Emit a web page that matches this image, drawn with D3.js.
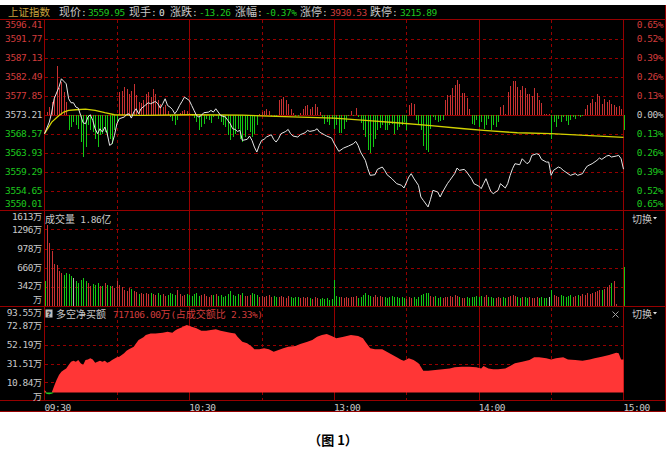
<!DOCTYPE html>
<html><head><meta charset="utf-8">
<script src="https://cdn.jsdelivr.net/npm/d3@7"></script>
<style>body{margin:0;background:#fff}svg{display:block}</style>
</head><body><svg id="c" width="669" height="463"></svg>
<script>
// ---------------- data ----------------
const priceTicks = [3596.41,3591.77,3587.13,3582.49,3577.85,3573.21,3568.57,3563.93,3559.29,3554.65,3550.01];
const pctLabels = ["0.65%","0.52%","0.39%","0.26%","0.13%","0.00%","0.13%","0.26%","0.39%","0.52%","0.65%"];
const volTicks = [1613,1296,978,660,342,26];
const volLabels = ["1613万","1296万","978万","660万","342万","万"];
const netTicks = [93.55,72.87,52.19,31.51,10.84,-9.84];
const netLabels = ["93.55万","72.87万","52.19万","31.51万","10.84万","万"];
const timeLabels = ["09:30","10:30","13:00","14:00","15:00"];
const timeMinutes = [0,60,120,180,240];
const gridMinutes = [30,60,90,120,150,180,210];

// price line: [minute, price]
const priceLine = [[0,3568.59],[2,3571.43],[3,3573.86],[4,3577.10],[6,3579.94],[7,3581.97],[9,3580.75],[10,3577.10],[11,3576.13],[12,3576.13],
[13,3575.08],[14,3574.83],[15,3573.05],[16,3571.26],[17,3571.02],[18,3572.64],[19,3573.21],[20,3571.83],[21,3569.80],[22,3568.59],
[23,3569.80],[24,3568.99],[25,3570.21],[26,3568.59],[27,3565.75],[28,3566.15],[29,3568.18],[30,3571.02],[31,3572.24],[33,3572.64],
[34,3573.21],[35,3573.45],[36,3572.40],[37,3573.86],[38,3574.67],[39,3573.45],[40,3574.67],[42,3575.64],[43,3576.13],[44,3575.89],
[46,3576.45],[47,3575.89],[48,3574.83],[49,3575.89],[50,3577.10],[51,3575.48],[52,3575.08],[53,3574.51],[54,3573.45],[55,3574.26],
[56,3575.48],[57,3576.45],[58,3577.51],[60,3576.70],[61,3575.48],[62,3574.26],[63,3573.05],[64,3572.64],[65,3573.05],[66,3573.70],
[68,3573.86],[69,3574.26],[70,3573.86],[71,3574.67],[72,3573.86],[73,3573.05],[75,3572.64],[76,3571.83],[77,3571.02],[78,3569.80],
[79,3569.64],[80,3569.15],[81,3569.40],[82,3566.97],[84,3567.21],[85,3568.02],[86,3566.97],[87,3565.34],[88,3564.13],[89,3565.75],
[90,3566.97],[91,3567.21],[92,3567.78],[94,3568.34],[95,3567.21],[96,3566.56],[97,3567.37],[98,3568.59],[100,3569.15],[101,3569.64],
[102,3568.59],[103,3568.02],[105,3567.78],[106,3568.34],[108,3568.83],[109,3569.40],[110,3569.15],[112,3569.40],[113,3569.80],[114,3568.99],
[116,3568.34],[117,3568.02],[119,3567.53],[120,3566.30],[122,3564.29],[124,3565.10],[126,3565.59],[128,3566.15],[129,3566.72],[130,3565.75],
[131,3564.13],[133,3562.10],[134,3560.07],[135,3558.45],[137,3558.61],[138,3559.91],[140,3560.48],[141,3559.67],[142,3558.61],[144,3557.64],
[146,3556.42],[148,3556.02],[149,3555.37],[151,3558.04],[152,3558.86],[153,3557.80],[155,3556.02],[156,3553.18],[157,3552.37],[159,3550.75],
[160,3552.61],[161,3554.80],[163,3554.39],[164,3553.18],[165,3554.39],[167,3556.42],[168,3557.23],[170,3558.86],[171,3560.23],[172,3559.67],
[174,3559.91],[175,3559.26],[177,3557.64],[178,3556.42],[180,3555.85],[181,3555.21],[182,3556.42],[183,3557.64],[184,3556.02],[185,3554.56],
[186,3553.99],[188,3554.80],[189,3556.42],[191,3555.37],[192,3556.42],[193,3558.45],[194,3560.07],[195,3561.29],[197,3561.04],[198,3562.50],
[200,3561.29],[201,3561.69],[202,3563.32],[204,3563.72],[205,3563.48],[206,3562.34],[208,3561.69],[209,3561.69],[210,3558.45],[211,3559.67],
[213,3560.48],[214,3560.23],[215,3559.67],[217,3558.86],[218,3558.45],[220,3558.86],[221,3558.45],[223,3558.86],[224,3559.91],[225,3560.72],
[227,3561.29],[229,3562.10],[230,3562.67],[231,3562.34],[233,3563.15],[234,3563.32],[235,3562.91],[237,3563.15],[238,3563.32],[239,3562.50],[240,3559.95]];

// average price line: [minute, price]
const avgLine = [[0,3568.59],[3,3571.43],[6,3573.05],[8,3573.86],[10,3574.26],[13,3574.43],[17,3574.59],[21,3574.26],[25,3573.70],[29,3573.21],
[40,3573.05],[61,3573.21],[82,3573.13],[96,3572.80],[120,3572.40],[133,3571.83],[146,3571.26],[159,3570.61],[174,3569.80],[182,3569.40],
[196,3568.83],[210,3568.59],[224,3568.18],[240,3567.69]];

// red/green bars around previous close (offset in index points), minute 0..240
const leadBars = [
0,0.6,2.0,3.2,4.5,11.8,6.5,8.0,5.5,3.0,
-3.8,-3.0,-1.8,-2.6,-3.4,-6.7,-10.3,-7.9,-2.6,-3.8,
-4.2,-5.8,-7.9,-5.0,-4.6,-4.2,-5.0,-5.8,-7.1,-3.8,
-1.8,5.5,5.9,6.7,6.3,5.1,5.9,7.5,4.7,3.1,
2.9,3.5,5.1,5.5,4.3,6.2,5.1,3.5,2.7,1.9,
2.3,1.0,-0.5,-1.5,-2.6,-1.4,0.4,0.8,1.2,0.9,
0.5,-0.3,-0.8,-1.8,-3.8,-3.0,-2.2,-1.0,-1.4,-2.0,
-0.6,-0.2,-1.0,-1.8,-2.6,-3.0,-5.0,-6.2,-5.4,-4.6,
-3.4,-5.8,-6.7,-5.4,-3.8,-4.2,-5.4,-4.6,-2.6,0.3,
0.6,1.0,1.4,0.8,-0.3,-0.6,-0.4,3.5,3.9,4.3,
3.5,2.7,1.5,0.5,-0.3,-0.4,0.5,1.3,2.1,2.4,
1.3,1.9,2.7,1.9,0.6,-0.5,-2.2,-1.8,-2.6,-1.0,
-3.4,-2.4,-4.4,-4.5,-3.5,-1.8,-0.4,0.8,-0.3,1.6,
-0.5,-2.0,-3.8,-5.4,-8.5,-9.3,-7.8,-5.8,-3.8,-3.2,
-2.6,-3.8,-3.6,-2.6,-2.2,-4.6,-3.6,-3.0,-2.6,-1.8,
-3.6,2.3,2.9,2.6,-1.4,-2.6,-3.8,-7.5,-8.6,-9.1,
-3.4,-0.5,-1.2,-1.8,-1.6,-1.4,3.5,4.9,4.8,6.5,
7.2,8.5,7.5,5.3,5.4,4.0,1.5,-2.2,-2.6,-1.4,
-3.0,-1.8,-3.4,-2.6,-1.0,-3.8,-2.6,-3.0,-1.8,1.8,
2.4,0.3,5.5,7.1,8.3,8.3,6.7,6.0,7.1,6.5,
5.0,5.1,4.5,6.5,5.3,3.5,2.9,0.2,0.1,0.1,
-6.0,-1.8,-3.0,-1.0,-1.8,-0.6,-1.6,-2.6,-1.4,-0.6,
-1.0,-0.4,-0.6,-0.2,1.3,2.4,2.9,3.9,3.0,5.1,
4.5,2.7,3.9,3.2,3.5,2.5,2.4,2.0,2.1,1.5,
-3.8];

// volume per minute (万), minute 0..240
const volume = [
440,1360,1073,935,730,715,605,577,550,577,
566,522,494,439,412,467,494,439,412,357,
401,384,412,357,368,412,384,357,368,329,
439,384,346,302,274,329,313,274,257,235,
246,230,240,225,250,230,210,245,220,235,
205,215,240,230,210,290,225,200,215,235,
210,195,225,240,205,215,230,200,190,220,
210,235,200,215,190,205,230,275,215,200,
225,210,240,205,195,215,250,230,210,190,
205,180,195,210,185,200,175,190,205,180,
170,195,185,165,190,175,160,180,170,185,
165,155,175,160,150,170,145,160,140,150,
456,200,175,190,165,180,160,185,175,195,
170,185,210,245,220,205,190,215,180,200,
175,190,165,185,200,175,190,160,180,170,
155,185,165,175,150,190,215,230,250,240,
205,180,195,170,185,160,175,190,200,185,
210,195,180,170,165,180,160,175,190,205,
185,200,175,220,190,180,170,160,175,165,
185,170,180,200,215,195,185,170,190,175,
165,180,170,160,175,165,180,170,160,175,
290,220,200,185,210,195,180,205,215,190,
200,220,205,230,215,240,225,250,260,275,
290,300,320,340,375,410,440,60,0,0,
676];

// net buy amount (万): [minute, value]
const netBuy = [[0,2.6],[1,-1.7],[2,-2.0],[3,-1.5],[4,7.0],[5,13.5],[6,19.0],[7,22.6],[8,24.4],[9,26.2],
[10,29.9],[11,33.5],[12,34.6],[13,33.5],[14,35.3],[15,31.7],[16,29.9],[17,35.3],[18,36.0],[19,37.1],
[20,36.0],[21,32.4],[22,33.5],[23,34.6],[24,33.5],[25,34.6],[26,32.4],[27,33.5],[28,35.3],[30,38.2],
[31,38.9],[33,42.6],[34,45.5],[35,46.9],[37,49.8],[38,53.5],[39,57.1],[41,60.0],[42,62.5],[44,64.3],
[46,64.3],[49,65.1],[51,66.1],[53,65.1],[54,67.2],[55,68.7],[57,70.9],[58,72.3],[59,73.4],[61,71.6],
[63,69.8],[65,67.2],[67,67.2],[69,68.0],[71,68.7],[73,67.2],[75,66.1],[77,65.1],[79,64.3],[80,60.7],
[82,55.3],[84,53.5],[86,49.8],[87,46.9],[89,46.9],[91,48.0],[93,46.9],[95,44.4],[97,46.2],[99,48.0],
[101,49.8],[104,50.6],[106,52.7],[109,55.3],[111,57.1],[113,60.7],[115,62.5],[117,63.6],[118,62.5],[119,61.4],
[121,58.9],[124,60.7],[127,62.5],[130,61.4],[132,58.9],[133,55.3],[135,48.0],[137,46.9],[140,46.9],[143,42.6],
[146,38.2],[148,35.3],[149,34.6],[151,37.1],[153,35.3],[155,31.7],[156,28.1],[157,23.7],[159,23.7],[162,24.4],
[165,25.2],[168,26.2],[170,27.3],[173,28.1],[176,28.1],[179,27.3],[181,26.2],[182,28.8],[184,26.2],[186,25.2],
[188,25.2],[191,26.2],[193,28.8],[195,31.7],[198,33.5],[201,35.3],[203,38.2],[205,38.2],[208,37.1],[210,36.0],
[212,37.1],[215,38.2],[217,36.0],[220,35.3],[223,34.6],[226,36.0],[228,37.1],[231,38.9],[234,40.8],[237,43.3],
[238,42.6],[239,36.0],[240,36.0]];

// ---------------- drawing ----------------
const svg = d3.select("#c");
const MONO = '"DejaVu Sans Mono","Liberation Mono",monospace';
const CJK = '"Noto Sans CJK SC","Noto Sans",sans-serif';
const RED = '#d23c3c', GREEN = '#1ec81e', GRAY = '#c8c8c8', LINE = '#960000';
const BAR_RED = '#c83232', BAR_GREEN = '#14c814';

const x = d3.scaleLinear().domain([0,240]).range([44.5,623.5]);
const yP = d3.scaleLinear().domain([priceTicks[10],priceTicks[0]]).range([210,19.5]);
const yV = d3.scaleLinear().domain([volTicks[5],volTicks[0]]).range([306.5,210]);
const yN = d3.scaleLinear().domain([netTicks[5],netTicks[0]]).range([401.5,306.5]);
const prevClose = priceTicks[5];
const px = v => Math.round(v) + 0.5;

svg.append('rect').attr('x',0).attr('y',5).attr('width',666).attr('height',407).attr('fill','#000');

const grid = svg.append('g').attr('shape-rendering','crispEdges').attr('stroke',LINE).attr('stroke-width',1);
function hline(y,x1,x2,dash){ grid.append('line').attr('x1',x1).attr('x2',x2).attr('y1',y).attr('y2',y).attr('stroke-dasharray',dash||null); }
function vline(xx,y1,y2,dash){ grid.append('line').attr('x1',xx).attr('x2',xx).attr('y1',y1).attr('y2',y2).attr('stroke-dasharray',dash||null); }

priceTicks.slice(1,10).forEach((p,i)=>{ hline(px(yP(p)),44.5,623.5, i===4?null:'3,3'); });
volTicks.slice(1,5).forEach(v=>hline(px(yV(v)),44.5,623.5,'3,3'));
netTicks.slice(1,5).forEach(v=>hline(px(yN(v)),44.5,623.5,'3,3'));
gridMinutes.forEach(m=>vline(px(x(m)),19.5,400, (m%60===0)?null:'3,3'));
[19.5,210.5,306.5,400.5,411.5].forEach(y=>hline(y,0,666));
vline(44.5,19.5,400.5); vline(623.5,19.5,400.5); vline(665.5,5,412);

// lead bars
const gl = svg.append('g').attr('shape-rendering','crispEdges');
gl.selectAll('line').data(leadBars.map((v,i)=>[i,v]).filter(d=>d[1]!==0)).join('line')
  .attr('x1',d=>px(x(d[0]))).attr('x2',d=>px(x(d[0])))
  .attr('y1',yP(prevClose)).attr('y2',d=>yP(prevClose+d[1]))
  .attr('stroke',d=>d[1]>0?BAR_RED:BAR_GREEN).attr('stroke-width',1);

// avg and price lines
svg.append('path').datum(avgLine).attr('fill','none').attr('stroke','#d2d200').attr('stroke-width',1.3)
  .attr('d',d3.line().x(d=>x(d[0])).y(d=>yP(d[1])));
svg.append('path').datum(priceLine).attr('fill','none').attr('stroke','#e6e6e6').attr('stroke-width',1)
  .attr('d',d3.line().x(d=>x(d[0])).y(d=>yP(d[1])));

// volume bars
const pT = priceLine.map(d=>d[0]), pV = priceLine.map(d=>d[1]);
function priceAt(t){ const i=d3.bisectLeft(pT,t); if(pT[i]===t) return pV[i]; const a=i-1; return pV[a]+(pV[i]-pV[a])*(t-pT[a])/(pT[i]-pT[a]); }
function volColor(t){
  if(t===0||t===240) return BAR_GREEN;
  const d = priceAt(t)-priceAt(t-1);
  return d>0.001?BAR_RED:(d<-0.001?BAR_GREEN:'#b4b4b4');
}
svg.append('g').attr('shape-rendering','crispEdges').selectAll('line')
  .data(volume.map((v,i)=>[i,v]).filter(d=>d[1]>0)).join('line')
  .attr('x1',d=>px(x(d[0]))).attr('x2',d=>px(x(d[0])))
  .attr('y1',306).attr('y2',d=>yV(Math.max(d[1],volTicks[5]+4)))
  .attr('stroke',d=>volColor(d[0])).attr('stroke-width',1);

// net buy area
svg.append('path').datum(netBuy).attr('fill','#ff3636')
  .attr('d',d3.area().x(d=>x(d[0])).y0(yN(0)).y1(d=>yN(Math.max(0,d[1]))));
svg.append('path').datum(netBuy).attr('fill','#1ec81e')
  .attr('d',d3.area().x(d=>x(d[0])).y0(yN(0)).y1(d=>yN(Math.min(0,d[1]))));

// ---------------- text ----------------
function isCJK(ch){ return /[\u3000-\u9fff\uff00-\uffef]/.test(ch); }
function mixed(str, xx, y, color, opt={}){
  const t = svg.append('text').attr('x',xx).attr('y',y).attr('fill',color).attr('text-anchor',opt.anchor||'start');
  const runs=[]; for(const ch of str){ const c=isCJK(ch); if(runs.length&&runs[runs.length-1].c===c) runs[runs.length-1].s+=ch; else runs.push({c,s:ch}); }
  runs.forEach(r=>{
    const ts=t.append('tspan').text(r.s);
    if(r.c) ts.attr('font-family',CJK).attr('font-size',opt.cjk||10);
    else ts.attr('font-family',MONO).attr('font-size',opt.mono||9.5).attr('letter-spacing',opt.ls!==undefined?opt.ls:-0.45);
  });
  return t;
}

// header
mixed('上证指数',8,16.2,'#c8a03c',{cjk:10.5});
const header = [['现价:',59,GRAY],['3559.95',88,GREEN],['现手:',129,GRAY],['0',159,'#e0e0e0'],['涨跌:',170,GRAY],['-13.26',199,GREEN],
  ['涨幅:',235,GRAY],['-0.37%',265,GREEN],['涨停:',300,GRAY],['3930.53',330,RED],['跌停:',370,GRAY],['3215.89',400,GREEN]];
header.forEach(h=>mixed(h[0],h[1],16.2,h[2],{cjk:11}));

// price labels
priceTicks.forEach((p,i)=>{
  let y = yP(p)+3.5; if(i===0) y=28.2; if(i===10) y=207.2;
  const col = i<5?RED:(i===5?GRAY:GREEN);
  mixed(p.toFixed(2),42,y,col,{anchor:'end'});
  mixed(pctLabels[i],663,y,col,{anchor:'end'});
});
// volume labels
volLabels.forEach((s,i)=>{
  let y = yV(volTicks[i])+3.5; if(i===0) y=220.2; if(i===1) y=233.4; if(i===4) y=289; if(i===5) y=303;
  mixed(s,42,y,GRAY,{anchor:'end',cjk:9});
});
// net labels
netLabels.forEach((s,i)=>{
  let y = yN(netTicks[i])+3.5; if(i===0) y=316; if(i===5) y=399.5;
  mixed(s,42,y,GRAY,{anchor:'end',cjk:9});
});
// time labels
timeLabels.forEach((s,i)=>mixed(s,x(timeMinutes[i]),410.7,GRAY,{}));

// panel titles
mixed('成交量 1.86亿',45,222.5,GRAY,{cjk:10});
svg.append('rect').attr('x',45.5).attr('y',309.5).attr('width',7).attr('height',8).attr('fill','#bebebe');
svg.append('text').attr('x',49).attr('y',316.5).attr('text-anchor','middle').attr('font-family','DejaVu Sans').attr('font-weight','bold').attr('font-size',7.5).attr('fill','#202020').text('?');
mixed('多空净买额',56,318,GRAY,{cjk:10});
mixed('717106.00万(占成交额比 2.33%)',113,318,RED,{cjk:10});

// switch controls
[223,318].forEach(y=>{
  mixed('切换',632,y,GRAY,{cjk:10});
  svg.append('path').attr('d',`M653,${y-6}L657,${y-6}L655,${y-3.5}Z`).attr('fill','#e0e0e0');
});
svg.append('path').attr('d','M612.5,311.5L618.5,317.5M618.5,311.5L612.5,317.5').attr('stroke','#a0a0a0').attr('stroke-width',1);

// caption
svg.append('text').attr('x',333).attr('y',444.5).attr('text-anchor','middle').attr('font-family',CJK)
  .attr('font-weight','bold').attr('font-size',13).attr('fill','#000').text('（图 1）');
</script></body></html>
